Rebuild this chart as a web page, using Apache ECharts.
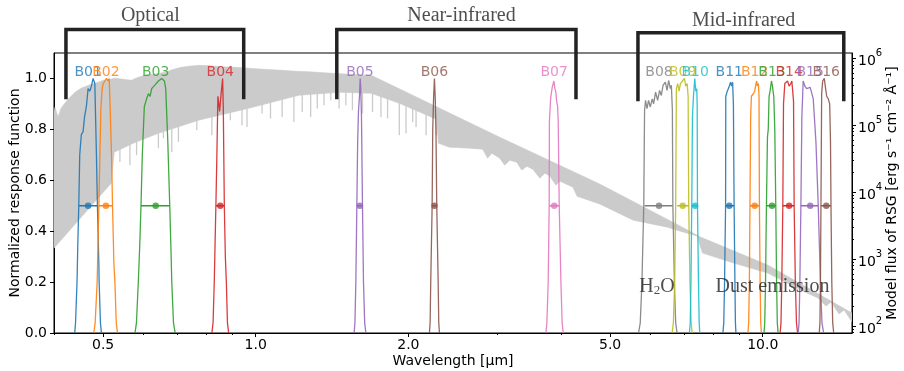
<!DOCTYPE html>
<html><head><meta charset="utf-8">
<script src="https://cdn.jsdelivr.net/npm/echarts@6/dist/echarts.min.js"></script>
<style>html,body{margin:0;padding:0;background:#fff}#c{width:904px;height:371px}</style>
</head><body><div id="c"></div>
<script>
// ---------------- DATA ----------------
const bandNames = ['B01','B02','B03','B04','B05','B06','B07','B08','B09','B10','B11','B12','B13','B14','B15','B16'];
const bandCenters = [0.4670,0.5063,0.6348,0.8513,1.6047,2.2516,3.8789,6.2436,6.9532,7.3575,8.5913,9.6419,10.4332,11.2741,12.4069,13.3461];
const bandFwhmLo = [0.4476,0.4904,0.5938,0.8344,1.5828,2.2281,3.7915,5.8469,6.7776,7.2444,8.4476,9.4373,10.170,10.955,11.892,13.027];
const bandFwhmHi = [0.4872,0.5218,0.6767,0.8670,1.6238,2.2753,3.9682,6.6400,7.1460,7.4352,8.7812,9.8507,10.611,11.534,12.868,13.635];

const B01 = [[0.4395,0],[0.4411,0.04],[0.4441,0.2],[0.4457,0.35],[0.4476,0.5],[0.4496,0.7],[0.4529,0.78],[0.4564,0.79],[0.4596,0.85],[0.4634,0.89],[0.4670,0.96],[0.4706,0.95],[0.4741,0.97],[0.4778,1.0],[0.4815,0.98],[0.4850,0.7],[0.4872,0.5],[0.4904,0.27],[0.4910,0.2],[0.4939,0.04],[0.4962,0]];
const B02 = [[0.4793,0],[0.4822,0.04],[0.4866,0.2],[0.4904,0.5],[0.4927,0.7],[0.4949,0.88],[0.4978,0.96],[0.5001,0.98],[0.5040,0.99],[0.5077,1.0],[0.5116,0.99],[0.5140,1.0],[0.5163,0.88],[0.5194,0.7],[0.5218,0.5],[0.5251,0.27],[0.5275,0.2],[0.5307,0.04],[0.5338,0]];
const B03 = [[0.5778,0],[0.5817,0.04],[0.5866,0.2],[0.5906,0.35],[0.5938,0.5],[0.5974,0.7],[0.6029,0.89],[0.6092,0.92],[0.6140,0.94],[0.6188,0.93],[0.6233,0.96],[0.6282,0.955],[0.6331,0.975],[0.6427,0.99],[0.6524,1.0],[0.6605,0.99],[0.6644,0.96],[0.6705,0.76],[0.6767,0.5],[0.6810,0.3],[0.6829,0.2],[0.6882,0.04],[0.6936,0]];
const B04 = [[0.8193,0],[0.8238,0.04],[0.8283,0.2],[0.8313,0.35],[0.8344,0.5],[0.8382,0.7],[0.8420,0.93],[0.8447,0.91],[0.8486,0.87],[0.8536,0.93],[0.8603,1.0],[0.8630,0.88],[0.8670,0.5],[0.8710,0.3],[0.8750,0.2],[0.8794,0.04],[0.8842,0]];
const B05 = [[1.5634,0],[1.5691,0.04],[1.5756,0.2],[1.5828,0.5],[1.5886,0.75],[1.5944,0.87],[1.6017,0.93],[1.6068,1.0],[1.6112,0.96],[1.6164,0.85],[1.6238,0.5],[1.6312,0.2],[1.6401,0.04],[1.6492,0]];
const B06 = [[2.2007,0],[2.2078,0.04],[2.2139,0.2],[2.2281,0.5],[2.2342,0.8],[2.2434,0.93],[2.2516,1.0],[2.2598,0.92],[2.2670,0.8],[2.2753,0.5],[2.2899,0.2],[2.2962,0.04],[2.3035,0]];
const B07 = [[3.7349,0],[3.7520,0.04],[3.7743,0.2],[3.7915,0.5],[3.7950,0.83],[3.8158,0.92],[3.8437,0.965],[3.8736,0.99],[3.8913,0.96],[3.9091,0.945],[3.9216,0.91],[3.9395,0.89],[3.9502,0.83],[3.9682,0.5],[3.9991,0.2],[4.0211,0.04],[4.0413,0]];
const B08 = [[5.6892,0],[5.7335,0.04],[5.7781,0.2],[5.8257,0.5],[5.8469,0.875],[5.8736,0.914],[5.9112,0.881],[5.9545,0.914],[6.0008,0.888],[6.0558,0.92],[6.0918,0.90],[6.1476,0.946],[6.2040,0.914],[6.2608,0.953],[6.3096,0.933],[6.3587,0.973],[6.4257,0.986],[6.4757,0.953],[6.5231,0.992],[6.5738,0.96],[6.6038,0.973],[6.6340,0.875],[6.6491,0.5],[6.6947,0.2],[6.7345,0.04],[6.7776,0]];
const B09 = [[6.6251,0],[6.6644,0.04],[6.7041,0.2],[6.7345,0.5],[6.7562,0.96],[6.7965,0.98],[6.8399,0.95],[6.8806,0.98],[6.9435,0.99],[7.0072,1.0],[7.0489,0.97],[7.0941,0.98],[7.1264,0.93],[7.1460,0.5],[7.1852,0.2],[7.2245,0.04],[7.2576,0]];
const B10 = [[7.1689,0],[7.1950,0.04],[7.2181,0.2],[7.2444,0.5],[7.2676,0.85],[7.3008,0.93],[7.3441,1.0],[7.3777,0.95],[7.4114,0.96],[7.4249,0.9],[7.4352,0.5],[7.4692,0.2],[7.4930,0.04],[7.5135,0]];
const B11 = [[8.3442,0],[8.3786,0.04],[8.4092,0.2],[8.4476,0.5],[8.4553,0.93],[8.5133,0.95],[8.5756,0.965],[8.6421,0.985],[8.6816,0.97],[8.7214,0.985],[8.7533,0.9],[8.7812,0.5],[8.8134,0.2],[8.8335,0.04],[8.8537,0]];
const B12 = [[9.3517,0],[9.3817,0.04],[9.4115,0.2],[9.4373,0.5],[9.4676,0.85],[9.4978,0.93],[9.5848,0.94],[9.6419,0.95],[9.6990,0.98],[9.7301,0.99],[9.7611,0.97],[9.8059,0.98],[9.8326,0.93],[9.8507,0.5],[9.8821,0.2],[9.9092,0.04],[9.9409,0]];
const B13 = [[10.059,0],[10.092,0.04],[10.128,0.2],[10.170,0.5],[10.217,0.77],[10.254,0.8],[10.292,0.93],[10.339,0.95],[10.405,0.99],[10.453,0.97],[10.481,0.95],[10.515,0.93],[10.563,0.8],[10.611,0.5],[10.650,0.2],[10.684,0.04],[10.723,0]];
const B14 = [[10.821,0],[10.865,0.04],[10.905,0.2],[10.955,0.5],[10.990,0.9],[11.055,0.98],[11.192,0.99],[11.274,0.97],[11.362,0.98],[11.414,0.99],[11.502,0.91],[11.534,0.5],[11.597,0.2],[11.656,0.04],[11.714,0]];
const B15 = [[11.746,0],[11.795,0.04],[11.838,0.2],[11.892,0.5],[11.946,0.85],[12.017,0.99],[12.111,0.97],[12.205,0.96],[12.294,0.96],[12.407,0.965],[12.487,0.96],[12.578,0.92],[12.734,0.75],[12.868,0.5],[12.998,0.2],[13.087,0.04],[13.189,0]];
const B16 = [[12.927,0],[12.968,0.04],[12.998,0.2],[13.027,0.5],[13.069,0.94],[13.129,0.99],[13.225,1.0],[13.285,0.97],[13.370,0.93],[13.468,0.92],[13.555,0.9],[13.604,0.75],[13.635,0.5],[13.685,0.2],[13.741,0.04],[13.804,0]];

// RSG model spectrum: upper envelope, lower body edge, and absorption spikes (wavelength in um, flux)
const rsgUpperWl = [0.4,0.4018,0.4073,0.4130,0.4187,0.4264,0.4342,0.4401,0.4523,0.4628,0.4735,0.4888,0.5001,0.5163,0.5282,0.5479,0.5682,0.5866,0.6056,0.6282,0.6636,0.6882,0.7138,0.7369,0.7711,0.8144,0.8564,0.9130,0.9686,1.0372,1.1258,1.2001,1.2734,1.4144,1.5282,1.6893,3.0283,4.7781,6.8806,7.5382,10.231,15.0];
const rsgUpperFlux = [1.618e5,1.857e5,1.316e5,1.794e5,2.058e5,2.444e5,2.804e5,3.108e5,3.566e5,3.820e5,4.092e5,4.384e5,4.695e5,4.860e5,5.030e5,4.860e5,4.695e5,5.206e5,5.577e5,5.771e5,6.180e5,6.853e5,7.340e5,7.597e5,7.862e5,7.728e5,7.467e5,7.340e5,7.091e5,6.853e5,6.622e5,6.397e5,6.289e5,5.973e5,5.771e5,5.577e5,6.622e4,1.316e4,3108,2130,813.7,156.3];
const rsgLowerWl = [0.4,0.5187,0.5258,0.5733,0.6427,0.7711,0.9686,1.2166,1.4602,1.6893,1.9193,2.2719,2.2927,2.4118,2.6415,2.8027,2.8673,2.9201,3.0283,3.0982,3.1696,3.2724,3.3479,3.4251,3.5200,3.6343,3.7180,3.8037,3.9091,3.9811,4.2241,4.3019,4.7781,5.5533,6.4845,6.8806,7.4352,7.5039,7.6073,8.7612,10.231,11.892,12.850,13.328,13.635,14.144,14.470,15.0];
const rsgLowerFlux = [1459,1.362e4,3.954e4,5.387e4,7.597e4,1.187e5,1.794e5,2.804e5,3.108e5,3.003e5,2.130e5,1.229e5,5.387e4,4.695e4,4.537e4,4.384e4,3.217e4,3.820e4,3.217e4,2.529e4,3.003e4,2.804e4,2.130e4,2.444e4,2.204e4,1.618e4,1.921e4,1.734e4,1.272e4,1.459e4,1.187e4,8716,6622,3820,3003,2618,2204,1675,1229,871.6,618.0,344.5,261.8,198.8,228.1,151.0,173.4,114.7];
const rsgSpikeWl = [0.5396,0.5647,0.5820,0.6427,0.6574,0.6829,0.7039,0.7651,0.8193,0.8910,0.9394,0.9611,1.0291,1.0693,1.1274,1.1892,1.2351,1.2833,1.3225,1.3635,1.4060,1.4602,1.5055,1.5514,1.6238,1.6994,1.7660,1.8197,1.9193,1.9789,2.0395,2.0713,2.1678,2.2690];
const rsgSpikeTip = [2.833e4,2.529e4,3.566e4,4.537e4,6.397e4,3.995e4,5.633e4,8.421e4,7.091e4,1.187e5,1.0e5,9.432e4,1.495e5,1.259e5,1.330e5,1.120e5,1.579e5,1.330e5,1.776e5,1.988e5,2.361e5,1.776e5,1.988e5,1.675e5,1.495e5,1.579e5,1.330e5,1.259e5,7.091e4,7.518e4,1.120e5,9.432e4,7.091e4,7.091e4];
const rsgSpikeBase = [4.648e4,5.462e4,6.035e4,8.137e4,8.597e4,9.432e4,1.017e5,1.250e5,1.420e5,1.652e5,1.818e5,1.895e5,2.167e5,2.329e5,2.591e5,2.872e5,3.024e5,3.098e5,3.151e5,3.206e5,3.262e5,3.330e5,3.307e5,3.284e5,3.250e5,3.162e5,2.852e5,2.636e5,2.281e5,2.065e5,1.876e5,1.781e5,1.537e5,1.326e5];

// Axis ticks
const xTickValues = [0.5,1,2,5,10];
const xMinorTicks = [0.4,0.6,0.7,0.8,0.9,3,4,6,7,8,9];
const yLeftTicks = [0,0.2,0.4,0.6,0.8,1.0];
const yRightTicks = [1e2,1e3,1e4,1e5,1e6];
const yRightMinor = [80,90,200,300,400,500,600,700,800,900,2000,3000,4000,5000,6000,7000,8000,9000,2e4,3e4,4e4,5e4,6e4,7e4,8e4,9e4,2e5,3e5,4e5,5e5,6e5,7e5,8e5,9e5];

// Wavelength regions
const regionNames = ['Optical','Near-infrared','Mid-infrared'];
const regionStart = [0.4223,1.445,5.674];
const regionEnd = [0.9468,4.282,14.45];
const regionLabelWl = [0.6196,2.5462,9.170];

// Annotations
const noteLabels = ['H{s|2}O','Dust emission'];
const noteWl = [6.1866,10.4525];

// ---------------- CHART ----------------
const bandColors = ['#1f77b4','#ff7f0e','#2ca02c','#d62728','#9467bd','#8c564b','#e377c2','#7f7f7f','#bcbd22','#17becf','#1f77b4','#ff7f0e','#2ca02c','#d62728','#9467bd','#8c564b'];
const bandCurves = [B01,B02,B03,B04,B05,B06,B07,B08,B09,B10,B11,B12,B13,B14,B15,B16];
const FONT = 'DejaVu Sans';
const SERIF = '"Liberation Serif", "Times New Roman", serif';
const GRAY = '#cbcbcb';
const CLEAR = 'rgba(0,0,0,0)';

const chart = echarts.init(document.getElementById('c'), null, {renderer: 'canvas'});

const specPoly = rsgUpperWl.map((w, i) => [w, rsgUpperFlux[i]])
  .concat(rsgLowerWl.map((w, i) => [w, rsgLowerFlux[i]]).reverse());

const series = [];
series.push({
  type: 'custom', xAxisIndex: 0, yAxisIndex: 1, z: 1, silent: true, clip: true,
  data: specPoly, encode: {x: 0, y: 1},
  renderItem: function (params, api) {
    if (params.dataIndex !== 0) return null;
    const pts = specPoly.map(p => api.coord(p));
    return {type: 'polygon', shape: {points: pts}, style: {fill: GRAY, stroke: GRAY, lineWidth: 0.6}};
  }
});
series.push({
  type: 'custom', xAxisIndex: 0, yAxisIndex: 1, z: 1, silent: true, clip: true,
  data: rsgSpikeWl.map((w, i) => [w, rsgSpikeTip[i], rsgSpikeBase[i]]), encode: {x: 0, y: [1, 2]},
  renderItem: function (params, api) {
    const a = api.coord([api.value(0), api.value(1)]);
    const b = api.coord([api.value(0), api.value(2)]);
    return {type: 'line', shape: {x1: a[0], y1: a[1], x2: b[0], y2: b[1]}, style: {stroke: GRAY, lineWidth: 1.3}};
  }
});

bandCurves.forEach((d, i) => {
  series.push({
    type: 'line', xAxisIndex: 0, yAxisIndex: 0, data: d, symbol: 'none', z: 3, silent: true,
    lineStyle: {color: bandColors[i], width: 1.3, opacity: 0.9}
  });
  series.push({
    type: 'line', xAxisIndex: 0, yAxisIndex: 0, data: [[bandFwhmLo[i], 0.5], [bandFwhmHi[i], 0.5]],
    symbol: 'none', z: 4, silent: true, lineStyle: {color: bandColors[i], width: 1.5}
  });
});

series.push({
  type: 'scatter', xAxisIndex: 0, yAxisIndex: 0, z: 5, silent: true, symbolSize: 6.5,
  data: bandCenters.map((c, i) => ({value: [c, 0.5], itemStyle: {color: bandColors[i]}}))
});

series.push({
  type: 'scatter', xAxisIndex: 0, yAxisIndex: 0, z: 6, silent: true, clip: false,
  symbolSize: 2, itemStyle: {color: CLEAR},
  data: bandCenters.map((c, i) => ({value: [c, 1.025], name: bandNames[i], label: {color: bandColors[i]}})),
  label: {show: true, position: 'inside', formatter: p => p.name, fontFamily: FONT, fontSize: 14}
});

regionNames.forEach((n, i) => {
  const top = i === 2 ? 1.180 : 1.192;
  const bot = i === 2 ? 0.910 : 0.918;
  series.push({
    type: 'line', xAxisIndex: 0, yAxisIndex: 0, z: 10, silent: true, clip: false, symbol: 'none',
    data: [[regionStart[i], bot], [regionStart[i], top], [regionEnd[i], top], [regionEnd[i], bot]],
    lineStyle: {color: '#222', width: 3.5, cap: 'butt', join: 'miter'}
  });
});

series.push({
  type: 'scatter', xAxisIndex: 0, yAxisIndex: 0, z: 11, silent: true, clip: false,
  symbolSize: 2, itemStyle: {color: CLEAR},
  data: regionNames.map((n, i) => ({value: [regionLabelWl[i], i === 2 ? 1.225 : 1.246], name: n})),
  label: {show: true, position: 'inside', formatter: p => p.name, fontFamily: SERIF, fontSize: 20, color: '#222'}
});

series.push({
  type: 'scatter', xAxisIndex: 0, yAxisIndex: 0, z: 12, silent: true, clip: false,
  symbolSize: 2, itemStyle: {color: CLEAR},
  data: noteLabels.map((n, i) => ({value: [noteWl[i], 0.18], name: n})),
  label: {show: true, position: 'inside', formatter: p => p.name, fontFamily: SERIF, fontSize: 20, color: '#222',
    rich: {s: {fontFamily: SERIF, fontSize: 13, color: '#222', verticalAlign: 'bottom', lineHeight: 16}}}
});

const axisLineBlack = {show: true, lineStyle: {color: '#000', width: 1}};
const labelStyle = {fontFamily: FONT, fontSize: 14, color: '#000'};

const option = {
  animation: false,
  backgroundColor: '#fff',
  grid: {left: 54, right: 52, top: 53, bottom: 38, show: true, borderColor: '#000', borderWidth: 1,
         containLabel: false, outerBoundsMode: 'none'},
  xAxis: [
    {type: 'log', logBase: 10, min: 0.4, max: 15, position: 'bottom',
     axisLine: axisLineBlack, splitLine: {show: false},
     axisTick: {show: true, length: 4, customValues: xTickValues, lineStyle: {color: '#000'}},
     axisLabel: Object.assign({show: true, margin: 5, customValues: xTickValues, formatter: v => (+v).toFixed(1)}, labelStyle),
     name: 'Wavelength [µm]', nameLocation: 'middle', nameGap: 21, nameMoveOverlap: false,
     nameTextStyle: {fontFamily: FONT, fontSize: 14, color: '#000'}},
    {type: 'log', logBase: 10, min: 0.4, max: 15, position: 'bottom',
     axisLine: {show: false}, splitLine: {show: false}, axisLabel: {show: false},
     axisTick: {show: true, length: 2, customValues: xMinorTicks, lineStyle: {color: '#000'}}}
  ],
  yAxis: [
    {type: 'value', min: 0, max: 1.1, position: 'left',
     axisLine: axisLineBlack, splitLine: {show: false},
     axisTick: {show: true, length: 4, customValues: yLeftTicks, lineStyle: {color: '#000'}},
     axisLabel: Object.assign({margin: 7, customValues: yLeftTicks, formatter: v => (+v).toFixed(1)}, labelStyle),
     name: 'Normalized response function', nameLocation: 'middle', nameRotate: 90, nameGap: 32, nameMoveOverlap: false,
     nameTextStyle: {fontFamily: FONT, fontSize: 14, color: '#000'}},
    {type: 'log', logBase: 10, min: 78.7, max: 1.2e6, position: 'right',
     axisLine: axisLineBlack, splitLine: {show: false},
     axisTick: {show: true, length: 4, customValues: yRightTicks, lineStyle: {color: '#000'}},
     axisLabel: {margin: 6, customValues: yRightTicks, color: '#000',
       formatter: v => '{b|10}{s|' + Math.round(Math.log10(v)) + '}',
       rich: {b: {fontFamily: FONT, fontSize: 14, color: '#000', verticalAlign: 'bottom', lineHeight: 20},
              s: {fontFamily: FONT, fontSize: 10, color: '#000', verticalAlign: 'top', lineHeight: 12}}},
     name: 'Model flux of RSG [erg s⁻¹ cm⁻² Å⁻¹]', nameLocation: 'middle', nameRotate: 90, nameGap: 33, nameMoveOverlap: false,
     nameTextStyle: {fontFamily: FONT, fontSize: 14, color: '#000'}},
    {type: 'log', logBase: 10, min: 78.7, max: 1.2e6, position: 'right',
     axisLine: {show: false}, splitLine: {show: false}, axisLabel: {show: false},
     axisTick: {show: true, length: 2, customValues: yRightMinor, lineStyle: {color: '#000'}}}
  ],
  series: series
};
chart.setOption(option);
</script>
</body></html>
